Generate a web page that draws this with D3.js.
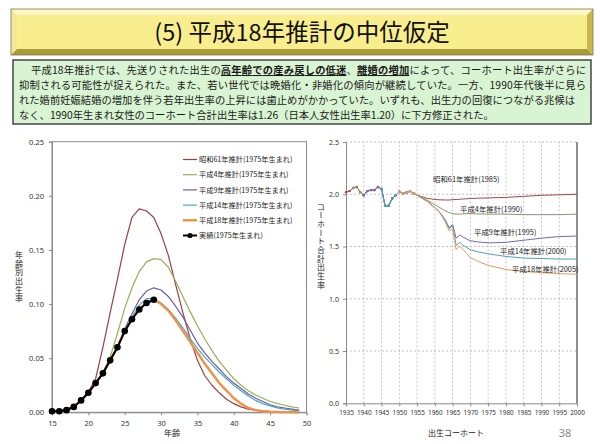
<!DOCTYPE html>
<html><head><meta charset="utf-8">
<script src="https://cdn.jsdelivr.net/npm/d3@7"></script>
<style>
html,body{margin:0;padding:0;background:#fff;}
svg{display:block;font-family:"Noto Sans CJK JP","Noto Sans",sans-serif;}
</style></head><body>
<svg id="c" width="600" height="444"></svg>
<script>
// ---------------- DATA ----------------
const titleText = "(5) 平成18年推計の中位仮定";
const bodyLine1 = [["平成18年推計では、先送りされた出生の", false], ["高年齢での産み戻しの低迷", true], ["、", false], ["離婚の増加", true], ["によって、コーホート出生率がさらに", false]];
const bodyLine2 = [["抑制される可能性が捉えられた。また、若い世代では晩婚化・非婚化の傾向が継続していた。一方、1990年代後半に見ら", false]];
const bodyLine3 = [["れた婚前妊娠結婚の増加を伴う若年出生率の上昇には歯止めがかかっていた。いずれも、出生力の回復につながる兆候は", false]];
const bodyLine4 = [["なく、1990年生まれ女性のコーホート合計出生率は1.26（日本人女性出生率1.20）に下方修正された。", false]];

// Left chart: age-specific fertility rates, 1975 cohort
const ages = [15,16,17,18,19,20,21,22,23,24,25,26,27,28,29,30,31,32,33,34,35,36,37,38,39,40,41,42,43,44,45,46,47,48,49];
const asfrS61 = [0.001,0.002,0.003,0.006,0.011,0.019,0.031,0.060,0.092,0.123,0.155,0.180,0.188,0.186,0.180,0.165,0.145,0.118,0.092,0.068,0.048,0.034,0.025,0.018,0.012,0.008,0.005,0.003,0.002,0.001,0.0007,0.0005,0.0003,0.0002,0.0001];
const asfrH4  = [0.001,0.001,0.002,0.005,0.011,0.018,0.027,0.037,0.051,0.073,0.096,0.115,0.130,0.139,0.142,0.141,0.134,0.121,0.107,0.093,0.080,0.068,0.057,0.047,0.039,0.031,0.025,0.020,0.016,0.013,0.010,0.008,0.0065,0.005,0.004];
const asfrH9  = [0.001,0.001,0.002,0.005,0.011,0.018,0.027,0.036,0.048,0.061,0.077,0.091,0.104,0.112,0.115,0.113,0.107,0.098,0.088,0.076,0.064,0.055,0.047,0.040,0.033,0.027,0.022,0.017,0.013,0.010,0.007,0.005,0.004,0.003,0.002];
const asfrH14 = [0.001,0.001,0.002,0.005,0.011,0.018,0.027,0.036,0.048,0.060,0.075,0.088,0.099,0.105,0.105,0.101,0.095,0.087,0.078,0.068,0.059,0.051,0.044,0.037,0.031,0.025,0.020,0.015,0.011,0.008,0.006,0.004,0.003,0.002,0.0015];
const asfrH18 = [0.001,0.001,0.002,0.005,0.011,0.018,0.027,0.036,0.048,0.060,0.075,0.086,0.095,0.101,0.104,0.100,0.094,0.085,0.075,0.065,0.055,0.045,0.036,0.027,0.020,0.013,0.008,0.004,0.002,0.001,0.0005,0.0003,0.0002,0.0001,0.0001];
const actualAges = [15,16,17,18,19,20,21,22,23,24,25,26,27,28,29];
const asfrActual = [0.001,0.001,0.002,0.005,0.011,0.018,0.027,0.036,0.048,0.060,0.075,0.086,0.095,0.101,0.104];
const leftLegend = ["昭和61年推計(1975年生まれ)","平成4年推計(1975年生まれ)","平成9年推計(1975年生まれ)","平成14年推計(1975年生まれ)","平成18年推計(1975年生まれ)","実績(1975年生まれ)"];
const leftYTicks = [0,0.05,0.10,0.15,0.20,0.25];
const leftXTicks = [15,20,25,30,35,40,45,50];
const leftYTitle = "年齢別出生率";
const leftXTitle = "年齢";

// Right chart: cohort total fertility rate
const histYears = [1935,1936,1937,1938,1939,1940,1941,1942,1943,1944,1945,1946,1947,1948,1949,1950,1951,1952,1953,1954];
const histTFR   = [2.02,2.03,2.06,2.07,2.02,1.99,2.03,2.04,2.04,2.07,2.05,1.89,1.89,1.96,1.99,2.025,2.01,2.015,2.03,2.01];
const seriesStart = [1935,1937,1940,1945,1950];
const projYears = [1955,1956,1957,1958,1959,1960,1961,1962,1963,1964,1965,1966,1967,1968,1969,1970,1972,1975,1980,1985,1990,1995,2000];
const tfrS61 = [1.99,1.98,1.97,1.96,1.955,1.95,1.948,1.946,1.945,1.945,1.948,1.95,1.952,1.955,1.957,1.96,1.962,1.965,1.97,1.98,1.99,1.995,2.0];
const tfrH4  = [1.99,1.98,1.96,1.94,1.92,1.90,1.88,1.86,1.84,1.825,1.815,1.81,1.81,1.812,1.815,1.815,1.812,1.81,1.81,1.805,1.805,1.805,1.81];
const tfrH9  = [1.99,1.97,1.95,1.93,1.90,1.87,1.84,1.80,1.75,1.68,1.71,1.58,1.61,1.59,1.57,1.555,1.545,1.535,1.54,1.56,1.58,1.595,1.60];
const tfrH14 = [1.99,1.97,1.95,1.93,1.90,1.87,1.84,1.80,1.75,1.67,1.70,1.51,1.54,1.51,1.49,1.47,1.45,1.43,1.405,1.39,1.385,1.38,1.38];
const tfrH18 = [1.99,1.97,1.95,1.93,1.90,1.87,1.84,1.79,1.73,1.65,1.67,1.47,1.505,1.47,1.43,1.395,1.36,1.32,1.28,1.26,1.25,1.24,1.235];
const rightLabels = ["昭和61年推計(1985)","平成4年推計(1990)","平成9年推計(1995)","平成14年推計(2000)","平成18年推計(2005)"];
const rightYTicks = [0,0.5,1.0,1.5,2.0,2.5];
const rightXTicks = [1935,1940,1945,1950,1955,1960,1965,1970,1975,1980,1985,1990,1995,2000];
const rightYTitle = "コーホート合計出生率";
const rightXTitle = "出生コーホート";
const pageNumber = "38";

// ---------------- STYLE / LAYOUT ----------------
const leftColors = ["#9e3f45","#93b352","#6b5ca5","#4aa8c4","#ef9146"];
const rightColors = ["#a0454a","#8a9468","#7a68a8","#4ea3b8","#e69a5a"];
const rightLabelPos = [[433,179],[460,209],[474,232],[500,251],[512,269]];

const svg = d3.select("#c");

// vertical text helper (single text element, vertical writing mode)
function vText(g, str, x, yCenter, size, spacing) {
  g.append("text").attr("x",x).attr("y",yCenter).attr("text-anchor","middle")
    .attr("font-size",size).attr("fill","#222").attr("letter-spacing",spacing)
    .style("writing-mode","vertical-rl").style("text-orientation","upright").text(str);
}

// ---------- Title banner ----------
const B = {x0:11, y0:9, x1:593, y1:55, b:6};
const bevel = svg.append("g");
const poly = (pts, fill) => bevel.append("polygon").attr("points", pts.map(p=>p.join(",")).join(" ")).attr("fill", fill);
poly([[B.x0,B.y0],[B.x1,B.y0],[B.x1-B.b,B.y0+B.b],[B.x0+B.b,B.y0+B.b]], "#fdf7c4");
poly([[B.x0,B.y0],[B.x0+B.b,B.y0+B.b],[B.x0+B.b,B.y1-B.b],[B.x0,B.y1]], "#f3e79a");
poly([[B.x1,B.y0],[B.x1,B.y1],[B.x1-B.b,B.y1-B.b],[B.x1-B.b,B.y0+B.b]], "#c8b84c");
poly([[B.x0,B.y1],[B.x0+B.b,B.y1-B.b],[B.x1-B.b,B.y1-B.b],[B.x1,B.y1]], "#a99a3a");
bevel.append("rect").attr("x",B.x0+B.b).attr("y",B.y0+B.b).attr("width",B.x1-B.x0-2*B.b).attr("height",B.y1-B.y0-2*B.b).attr("fill","#f9ee8e");
bevel.append("rect").attr("x",B.x0).attr("y",B.y0).attr("width",B.x1-B.x0).attr("height",B.y1-B.y0).attr("fill","none").attr("stroke","#7a7a50").attr("stroke-width",0.8);
svg.append("text").attr("x",302).attr("y",41).attr("text-anchor","middle").attr("font-size",23.5).attr("fill","#111").text(titleText);

// ---------- Body text box ----------
svg.append("rect").attr("x",13).attr("y",60).attr("width",578).attr("height",64).attr("fill","#d8f4d2").attr("stroke","#3a3a3a").attr("stroke-width",1.4);
const bodyLayout = [[bodyLine1,31,74,555],[bodyLine2,19,89,567],[bodyLine3,19,104,556],[bodyLine4,19,119,null]];
bodyLayout.forEach(([segs,x,y,len]) => {
  const t = svg.append("text").attr("x",x).attr("y",y).attr("font-size",10.3).attr("fill","#1a1a1a");
  if (len) t.attr("textLength",len).attr("lengthAdjust","spacing");
  segs.forEach(([s,b]) => {
    const ts = t.append("tspan").text(s);
    if (b) ts.attr("font-weight","bold").attr("text-decoration","underline");
  });
});

// ---------- Left chart ----------
const xL = d3.scaleLinear().domain([15,50]).range([52,306.5]);
const yL = d3.scaleLinear().domain([0,0.25]).range([412.3,141.7]);
const gL = svg.append("g");
gL.append("rect").attr("x",xL(15)).attr("y",yL(0.25)).attr("width",xL(50)-xL(15)).attr("height",yL(0)-yL(0.25)).attr("fill","#fff").attr("stroke","#8a8a8a").attr("stroke-width",1);
const axL = gL.append("g").attr("transform",`translate(${xL(15)},0)`).call(d3.axisLeft(yL).tickValues(leftYTicks).tickFormat(d3.format(".2f")).tickSize(3).tickPadding(5));
const axB = gL.append("g").attr("transform",`translate(0,${yL(0)})`).call(d3.axisBottom(xL).tickValues(leftXTicks).tickFormat(d3.format("d")).tickSize(3).tickPadding(5));
[axL,axB].forEach(a=>{a.selectAll("path,line").attr("stroke","#8a8a8a");a.selectAll("text").attr("font-size",7.5).attr("fill","#333").attr("font-family","'Noto Sans',sans-serif");});
vText(gL, leftYTitle, 19, 277, 8, 0.6);
gL.append("text").attr("x",172).attr("y",436).attr("font-size",8).attr("fill","#222").attr("text-anchor","middle").text(leftXTitle);

const lineL = d3.line().x(d=>xL(d[0])).y(d=>yL(d[1]));
const leftSeries = [asfrS61,asfrH4,asfrH9,asfrH14,asfrH18];
leftSeries.forEach((vals,i)=>{
  gL.append("path").datum(ages.map((a,k)=>[a,vals[k]])).attr("d",lineL).attr("fill","none")
    .attr("stroke",leftColors[i]).attr("stroke-width", i===4?2.4:1.2).attr("stroke-linejoin","round");
});
const act = actualAges.map((a,k)=>[a,asfrActual[k]]);
gL.append("path").datum(act).attr("d",lineL).attr("fill","none").attr("stroke","#000").attr("stroke-width",2);
gL.selectAll("circle.act").data(act).join("circle").attr("class","act").attr("cx",d=>xL(d[0])).attr("cy",d=>yL(d[1])).attr("r",3.3).attr("fill","#000");

// legend
const lg = gL.append("g");
leftLegend.forEach((lab,i)=>{
  const y = 159.5 + i*15.2;
  const isAct = i===5;
  lg.append("line").attr("x1",183).attr("x2",197).attr("y1",y).attr("y2",y)
    .attr("stroke", isAct?"#000":leftColors[i]).attr("stroke-width", isAct?2:(i===4?2.4:1.2));
  if (isAct) lg.append("circle").attr("cx",190).attr("cy",y).attr("r",2.6).attr("fill","#000");
  lg.append("text").attr("x",199).attr("y",y+2.6).attr("font-size",7.2).attr("fill","#222").text(lab);
});

// ---------- Right chart ----------
const xR = d3.scaleLinear().domain([1935,2000]).range([346,577]);
const yR = d3.scaleLinear().domain([0,2.5]).range([403.3,142]);
const gR = svg.append("g");
gR.selectAll("line.vg").data(rightXTicks.filter(d=>d>1935 && d<2000)).join("line").attr("class","vg")
  .attr("x1",d=>xR(d)).attr("x2",d=>xR(d)).attr("y1",yR(0)).attr("y2",yR(2.5))
  .attr("stroke","#b4b4b4").attr("stroke-width",0.8).attr("stroke-dasharray","2,2");
gR.selectAll("line.hg").data(rightYTicks.filter(d=>d>0)).join("line").attr("class","hg")
  .attr("x1",xR(1935)).attr("x2",xR(2000)).attr("y1",d=>yR(d)).attr("y2",d=>yR(d))
  .attr("stroke","#b4b4b4").attr("stroke-width",0.8).attr("stroke-dasharray","2,2");
gR.append("line").attr("x1",xR(2000)).attr("x2",xR(2000)).attr("y1",yR(0)).attr("y2",yR(2.5)).attr("stroke","#444").attr("stroke-width",1.2);
const axRL = gR.append("g").attr("transform",`translate(${xR(1935)},0)`).call(d3.axisLeft(yR).tickValues(rightYTicks).tickFormat(d3.format(".1f")).tickSize(3).tickPadding(4));
const axRB = gR.append("g").attr("transform",`translate(0,${yR(0)})`).call(d3.axisBottom(xR).tickValues(rightXTicks).tickFormat(d3.format("d")).tickSize(3).tickPadding(4));
[axRL,axRB].forEach(a=>{a.selectAll("path,line").attr("stroke","#8a8a8a");a.selectAll("text").attr("font-size",7).attr("fill","#333").attr("font-family","'Noto Sans',sans-serif");});
axRB.selectAll("text").attr("font-size",6.4);
vText(gR, rightYTitle, 321, 246, 8, 0.7);
gR.append("text").attr("x",456).attr("y",436).attr("font-size",8).attr("fill","#222").attr("text-anchor","middle").text(rightXTitle);

const lineR = d3.line().x(d=>xR(d[0])).y(d=>yR(d[1]));
const rightSeries = [tfrS61,tfrH4,tfrH9,tfrH14,tfrH18];
rightSeries.forEach((vals,i)=>{
  const hist = histYears.map((y,k)=>[y,histTFR[k]]).filter(d=>d[0]>=seriesStart[i]);
  const pts = hist.concat(projYears.map((y,k)=>[y,vals[k]]));
  gR.append("path").datum(pts).attr("d",lineR).attr("fill","none").attr("stroke",rightColors[i]).attr("stroke-width",1);
  gR.selectAll(null).data(hist).join("circle").attr("cx",d=>xR(d[0])).attr("cy",d=>yR(d[1])).attr("r",1.2).attr("fill",rightColors[i]);
});
rightLabels.forEach((lab,i)=>{
  gR.append("text").attr("x",rightLabelPos[i][0]).attr("y",rightLabelPos[i][1]+2.6).attr("font-size",7.4).attr("fill","#222").text(lab);
});

svg.append("text").attr("x",565).attr("y",437).attr("text-anchor","middle").attr("font-size",11).attr("fill","#8a8a8a").attr("font-family","'Noto Sans',sans-serif").text(pageNumber);
</script>
</body></html>
